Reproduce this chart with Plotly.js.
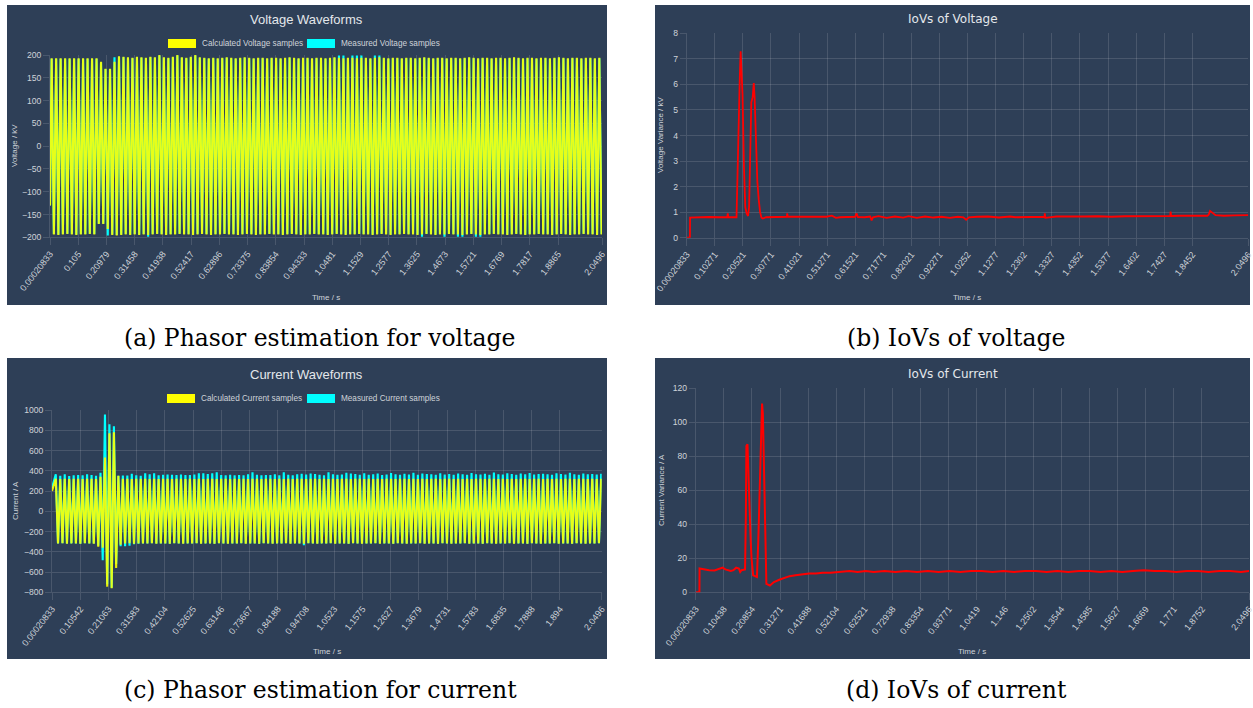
<!DOCTYPE html>
<html>
<head>
<meta charset="utf-8">
<script src="https://cdn.plot.ly/plotly-3.0.1.min.js"></script>
<style>
html,body{margin:0;padding:0;background:#ffffff;}
#chart{width:1253px;height:708px;}
</style>
</head>
<body>
<div id="chart"></div>
<script>
// ---------------- DATA ----------------
const SAMPLE_T0 = 0.00020833;
const T_END = 2.0496;
const FREQ = 60;               // waveform cycles per second
const voltPhase = 0.38;        // cycle offset of first voltage peak
const currPhase = 0.86;        // cycle offset of first current peak

// Tick labels shown under each panel
const voltTickText = ["0.00020833","0.105","0.20979","0.31458","0.41938","0.52417","0.62896","0.73375","0.83854","0.94333","1.0481","1.1529","1.2577","1.3625","1.4673","1.5721","1.6769","1.7817","1.8865","2.0496"];
const ioVoltTickText = ["0.00020833","0.10271","0.20521","0.30771","0.41021","0.51271","0.61521","0.71771","0.82021","0.92271","1.0252","1.1277","1.2302","1.3327","1.4352","1.5377","1.6402","1.7427","1.8452","2.0496"];
const currTickText = ["0.00020833","0.10542","0.21063","0.31583","0.42104","0.52625","0.63146","0.73667","0.84188","0.94708","1.0523","1.1575","1.2627","1.3679","1.4731","1.5783","1.6835","1.7888","1.894","2.0496"];
const ioCurrTickText = ["0.00020833","0.10438","0.20854","0.31271","0.41688","0.52104","0.62521","0.72938","0.83354","0.93771","1.0419","1.146","1.2502","1.3544","1.4585","1.5627","1.6669","1.771","1.8752","2.0496"];

// Voltage waveform: value at the first sample, then peak / trough of every cycle (kV)
const voltStart = [-130, -130];   // [calculated, measured]
const voltCalcPeaks = [
 193,193,193,193,193,193,193,193,193,193,
 193,185,170,170,185,197,196,195,194,196,
 195,194,196,195,200,195,194,196,200,195,
 194,196,200,195,194,193,194,193,194,195,
 194,193,194,195,194,193,194,194,193,194,
 194,193,194,195,194,193,194,194,193,194,
 194,193,194,195,194,193,194,194,193,194,
 194,193,194,195,194,193,194,194,193,194,
 194,193,194,195,194,193,194,194,193,194,
 194,193,194,195,194,193,194,194,193,194,
 194,193,194,195,194,193,194,194,193,194,
 194,193,194,195,194,193,194,194,193,194,
 194,193,194];
const voltCalcTroughs = [
 -194,-195,-194,-193,-194,-195,-194,-194,-193,-194,
 -171,-171,-182,-195,-196,-195,-194,-195,-194,-195,
 -194,-195,-194,-193,-194,-195,-194,-194,-193,-194,
 -194,-195,-194,-193,-194,-195,-194,-194,-193,-194,
 -194,-195,-194,-193,-194,-195,-194,-194,-193,-194,
 -194,-195,-194,-193,-194,-195,-194,-194,-193,-194,
 -194,-195,-194,-193,-194,-195,-194,-194,-193,-194,
 -194,-195,-194,-193,-194,-195,-194,-194,-193,-194,
 -194,-195,-194,-193,-194,-195,-194,-194,-193,-194,
 -194,-195,-194,-193,-194,-195,-194,-194,-193,-194,
 -194,-195,-194,-193,-194,-195,-194,-194,-193,-194,
 -194,-195,-194,-193,-194,-195,-194,-194,-193,-194,
 -194,-195,-194];
const voltMeasPeaks = [
 192,192,192,192,192,192,192,192,192,192,
 192,184,169,169,195,196,195,194,193,195,
 194,193,195,194,199,194,193,195,199,194,
 193,195,199,194,193,192,193,192,193,194,
 193,192,193,194,193,192,193,193,192,193,
 193,192,193,194,193,192,193,193,192,193,
 193,192,193,194,199,199,193,199,199,199,
 193,192,199,199,193,192,193,193,192,193,
 193,192,193,194,193,192,193,193,192,193,
 193,192,193,194,193,192,193,193,192,193,
 193,192,193,194,193,192,193,193,192,193,
 193,192,193,194,193,192,193,193,192,193,
 193,192,193];
const voltMeasTroughs = [
 -193,-194,-193,-192,-193,-194,-193,-193,-192,-193,
 -170,-170,-196,-194,-195,-194,-193,-194,-193,-194,
 -193,-199,-193,-192,-193,-194,-193,-193,-192,-193,
 -193,-194,-193,-192,-193,-194,-193,-193,-192,-193,
 -193,-194,-193,-192,-193,-194,-193,-193,-192,-193,
 -193,-194,-193,-192,-193,-194,-193,-193,-192,-193,
 -193,-194,-193,-192,-193,-194,-193,-193,-192,-193,
 -193,-194,-193,-192,-193,-194,-193,-193,-192,-193,
 -193,-194,-199,-192,-193,-194,-193,-199,-192,-193,
 -199,-199,-193,-192,-199,-199,-193,-193,-192,-193,
 -193,-194,-193,-192,-193,-194,-193,-193,-192,-193,
 -193,-194,-193,-192,-193,-194,-193,-193,-192,-193,
 -193,-194,-193];

// Current waveform (A)
const currStart = [200, 230];   // [calculated, measured]
const currCalcPeaks = [
 320,318,321,319,320,322,318,320,321,319,
 340,530,770,780,350,322,320,318,321,320,
 320,318,321,319,320,322,318,320,321,319,
 320,318,321,319,320,322,318,320,321,319,
 320,318,321,319,320,322,318,320,321,319,
 320,318,321,319,320,322,318,320,321,319,
 320,318,321,319,320,322,318,320,321,319,
 320,318,321,319,320,322,318,320,321,319,
 320,318,321,319,320,322,318,320,321,319,
 320,318,321,319,320,322,318,320,321,319,
 320,318,321,319,320,322,318,320,321,319,
 320,318,321,319,320,322,318,320,321,319,
 320,318,321];
const currCalcTroughs = [
 -318,-316,-319,-317,-318,-320,-316,-318,-319,-350,
 -360,-744,-760,-560,-330,-318,-316,-319,-317,-318,
 -318,-316,-319,-317,-318,-320,-316,-318,-319,-317,
 -318,-316,-319,-317,-318,-320,-316,-318,-319,-317,
 -318,-316,-319,-317,-318,-320,-316,-318,-319,-317,
 -318,-316,-319,-317,-318,-320,-316,-318,-319,-317,
 -318,-316,-319,-317,-318,-320,-316,-318,-319,-317,
 -318,-316,-319,-317,-318,-320,-316,-318,-319,-317,
 -318,-316,-319,-317,-318,-320,-316,-318,-319,-317,
 -318,-316,-319,-317,-318,-320,-316,-318,-319,-317,
 -318,-316,-319,-317,-318,-320,-316,-318,-319,-317,
 -318,-316,-319,-317,-318,-320,-316,-318,-319,-317,
 -318,-316];
const currMeasPeaks = [
 365,351,365,349,355,358,355,365,358,351,
 380,955,858,840,350,352,352,370,355,351,
 375,365,375,355,360,362,360,358,362,359,
 358,362,375,375,368,375,385,358,355,360,
 355,358,355,365,385,360,355,358,358,365,
 355,385,360,355,365,370,362,372,368,360,
 355,385,365,360,362,380,372,368,360,375,
 360,365,372,358,362,378,365,360,370,362,
 380,360,372,368,365,360,375,362,368,360,
 372,365,360,378,365,362,370,360,382,365,
 362,375,368,360,372,365,378,362,368,370,
 365,360,375,368,362,380,365,360,372,365,
 368,362,370];
const currMeasTroughs = [
 -318,-316,-319,-317,-318,-320,-316,-318,-319,-340,
 -484,-720,-755,-520,-345,-345,-340,-325,-320,-318,
 -318,-316,-319,-317,-318,-320,-316,-318,-319,-317,
 -318,-316,-319,-317,-318,-320,-316,-318,-319,-317,
 -318,-316,-319,-317,-318,-320,-316,-318,-319,-317,
 -318,-316,-319,-317,-318,-335,-316,-318,-319,-317,
 -318,-316,-319,-317,-318,-320,-316,-318,-319,-317,
 -318,-316,-319,-317,-318,-320,-316,-318,-319,-317,
 -318,-316,-319,-317,-318,-320,-316,-318,-319,-317,
 -318,-316,-319,-317,-318,-320,-316,-318,-319,-317,
 -318,-316,-319,-317,-318,-320,-316,-318,-319,-317,
 -318,-316,-319,-317,-318,-320,-316,-318,-319,-317,
 -318,-316];

// IoVs of voltage (kV)
const ioVoltTime = [
 0.00020833,0.012,0.0125,0.04,0.08,0.12,0.148,0.15,
 0.152,0.182,0.185,0.188,0.191,0.194,0.197,0.2,
 0.204,0.209,0.214,0.219,0.224,0.228,0.232,0.236,
 0.241,0.245,0.248,0.251,0.254,0.258,0.263,0.268,
 0.273,0.278,0.29,0.33,0.366,0.367,0.369,0.42,
 0.47,0.51,0.53,0.545,0.56,0.6,0.615,0.62,
 0.625,0.65,0.67,0.675,0.68,0.7,0.73,0.76,
 0.79,0.81,0.84,0.87,0.9,0.93,0.96,0.99,
 1.01,1.02,1.03,1.06,1.1,1.14,1.18,1.2,
 1.25,1.306,1.307,1.309,1.35,1.4,1.45,1.5,
 1.55,1.6,1.65,1.7,1.765,1.766,1.768,1.8,
 1.85,1.9,1.905,1.91,1.93,1.96,2.0,2.0496];
const ioVoltValue = [
 0,0,0.79,0.8,0.81,0.8,0.8,0.95,
 0.8,0.8,2.3,4.5,5.5,6.3,7.3,6.4,
 5.6,2.8,1.2,0.95,0.85,1.2,3.8,5.3,
 5.5,6.05,5.5,4.5,4.0,2.2,1.5,1.0,
 0.78,0.75,0.8,0.82,0.82,0.95,0.82,0.82,
 0.81,0.82,0.86,0.78,0.8,0.81,0.82,0.95,
 0.81,0.8,0.83,0.68,0.8,0.84,0.78,0.83,
 0.79,0.84,0.78,0.83,0.79,0.82,0.78,0.82,
 0.8,0.7,0.8,0.82,0.83,0.79,0.83,0.8,
 0.82,0.82,0.95,0.78,0.83,0.82,0.83,0.84,
 0.82,0.84,0.84,0.85,0.85,1.02,0.85,0.86,
 0.85,0.86,0.9,1.05,0.88,0.86,0.87,0.88];

// IoVs of current (A)
const ioCurrTime = [
 0.00020833,0.014,0.0145,0.03,0.05,0.07,0.09,0.1,
 0.11,0.13,0.14,0.15,0.16,0.165,0.17,0.183,
 0.186,0.188,0.192,0.195,0.198,0.2,0.204,0.207,
 0.213,0.22,0.227,0.232,0.237,0.24,0.243,0.246,
 0.249,0.252,0.256,0.259,0.262,0.275,0.29,0.312,
 0.33,0.348,0.37,0.397,0.42,0.446,0.47,0.5,
 0.54,0.57,0.6,0.63,0.66,0.7,0.74,0.78,
 0.82,0.86,0.9,0.94,0.98,1.02,1.06,1.1,
 1.14,1.18,1.22,1.26,1.3,1.34,1.38,1.42,
 1.46,1.5,1.54,1.58,1.62,1.66,1.7,1.74,
 1.78,1.82,1.86,1.9,1.94,1.98,2.02,2.0496];
const ioCurrValue = [
 0,0,14,13.5,13,12.8,14,14.5,
 13.5,12.5,13,14.5,14,12,13,13.5,
 45,86,87,70,65,55,30,20,
 10,9.5,9,30,62,75,100,111,
 105,80,40,15,5,4,6,7.5,
 8.5,9.5,10,10.5,11,11,11.5,11.5,
 12,12.5,12,12.5,12,12.5,12,12.5,
 12,12.5,12,12.5,12,12.5,12.5,12,
 12.5,12,12.5,12.5,12,12.5,12,12.5,
 12.5,12,12.5,12,12.5,13,12.5,12.5,
 12,12.5,12.5,12,12.5,12.5,12,12.5];

// ---------------- BUILD ----------------
const W = 1253, H = 708;
const fx = p => p / W;
const fy = p => 1 - p / H;
const BG = '#2e3f57';
const GRID = 'rgba(255,255,255,0.13)';
const TICKC = '#cfd3d9';
const TITLEC = '#e4e7eb';
const SANS = '"Liberation Sans", Arial, sans-serif';

function zigzag(startVal, peaks, troughs, phase) {
  const x = [SAMPLE_T0], y = [startVal];
  for (let i = 0; i < peaks.length; i++) {
    x.push((i + phase) / FREQ); y.push(peaks[i]);
    if (i < troughs.length) { x.push((i + phase + 0.5) / FREQ); y.push(troughs[i]); }
  }
  return {x, y};
}

const vMeas = zigzag(voltStart[1], voltMeasPeaks, voltMeasTroughs, voltPhase);
const vCalc = zigzag(voltStart[0], voltCalcPeaks, voltCalcTroughs, voltPhase);
const cMeas = zigzag(currStart[1], currMeasPeaks, currMeasTroughs, currPhase);
const cCalc = zigzag(currStart[0], currCalcPeaks, currCalcTroughs, currPhase);

const WAVE_W = 2.1;
const traces = [
  {x: vMeas.x, y: vMeas.y, xaxis: 'x', yaxis: 'y', type: 'scatter', mode: 'lines',
   name: 'Measured Voltage samples', line: {color: '#00ffff', width: WAVE_W}, hoverinfo: 'skip'},
  {x: vCalc.x, y: vCalc.y, xaxis: 'x', yaxis: 'y', type: 'scatter', mode: 'lines', opacity: 0.9,
   name: 'Calculated Voltage samples', line: {color: '#ffff00', width: WAVE_W}, hoverinfo: 'skip'},
  {x: ioVoltTime, y: ioVoltValue, xaxis: 'x2', yaxis: 'y2', type: 'scatter', mode: 'lines',
   name: 'IoVs of Voltage', line: {color: '#ff0000', width: 1.8}, hoverinfo: 'skip'},
  {x: cMeas.x, y: cMeas.y, xaxis: 'x3', yaxis: 'y3', type: 'scatter', mode: 'lines',
   name: 'Measured Current samples', line: {color: '#00ffff', width: WAVE_W}, hoverinfo: 'skip'},
  {x: cCalc.x, y: cCalc.y, xaxis: 'x3', yaxis: 'y3', type: 'scatter', mode: 'lines', opacity: 0.9,
   name: 'Calculated Current samples', line: {color: '#ffff00', width: WAVE_W}, hoverinfo: 'skip'},
  {x: ioCurrTime, y: ioCurrValue, xaxis: 'x4', yaxis: 'y4', type: 'scatter', mode: 'lines',
   name: 'IoVs of Current', line: {color: '#ff0000', width: 2}, hoverinfo: 'skip'}
];

function xAxis(l, r, anchor, labels) {
  return {
    domain: [fx(l), fx(r)], anchor: anchor, type: 'linear',
    range: [SAMPLE_T0, T_END], tickmode: 'array',
    tickvals: labels.map(Number), ticktext: labels,
    tickangle: -52, ticks: 'outside', ticklen: 7, tickcolor: GRID,
    ticklabeloverflow: 'allow',
    showgrid: true, gridcolor: GRID, gridwidth: 1, zeroline: false,
    showline: true, linecolor: GRID, linewidth: 1,
    tickfont: {family: SANS, size: 9, color: TICKC}, fixedrange: true
  };
}
function yAxis(t, b, anchor, range, dtick) {
  return {
    domain: [fy(b), fy(t)], anchor: anchor, range: range, dtick: dtick, tick0: 0,
    ticks: 'outside', ticklen: 6, tickcolor: GRID,
    showgrid: true, gridcolor: GRID, gridwidth: 1,
    zeroline: true, zerolinecolor: GRID, zerolinewidth: 1,
    showline: true, linecolor: GRID, linewidth: 1,
    tickfont: {family: SANS, size: 8.6, color: TICKC}, fixedrange: true
  };
}

function ann(text, x, y, size, opt) {
  return Object.assign({
    text: text, xref: 'paper', yref: 'paper', x: fx(x), y: fy(y),
    xanchor: 'center', yanchor: 'middle', showarrow: false,
    font: {family: SANS, size: size, color: TICKC}
  }, opt || {});
}
function rect(x0, y0, x1, y1, color, layer) {
  return {type: 'rect', xref: 'paper', yref: 'paper', x0: fx(x0), x1: fx(x1), y0: fy(y1), y1: fy(y0),
          fillcolor: color, line: {width: 0}, layer: layer};
}

const shapes = [
  rect(7, 5, 607, 305, BG, 'below'),
  rect(655, 5, 1250, 305, BG, 'below'),
  rect(7, 358, 607, 659, BG, 'below'),
  rect(655, 358, 1250, 659, BG, 'below'),
  rect(168, 39, 196, 48, '#ffff00', 'above'),
  rect(307, 39, 335, 48, '#00ffff', 'above'),
  rect(167, 394, 195, 403, '#ffff00', 'above'),
  rect(307, 394, 335, 403, '#00ffff', 'above')
];

const CAP = {family: '"DejaVu Serif", "Liberation Serif", serif', size: 23.5, color: '#000000'};
const annotations = [
  ann('Voltage Waveforms', 306.5, 19, 13, {font: {family: SANS, size: 13, color: TITLEC}}),
  ann('IoVs of Voltage', 952.5, 19, 12, {font: {family: '"DejaVu Sans", sans-serif', size: 12, color: TITLEC}}),
  ann('Current Waveforms', 306.5, 374, 13, {font: {family: SANS, size: 13, color: TITLEC}}),
  ann('IoVs of Current', 952.5, 374, 12, {font: {family: '"DejaVu Sans", sans-serif', size: 12, color: TITLEC}}),
  ann('Calculated Voltage samples', 200, 43.5, 8.2, {xanchor: 'left'}),
  ann('Measured Voltage samples', 339, 43.5, 8.2, {xanchor: 'left'}),
  ann('Calculated Current samples', 199, 398.5, 8.2, {xanchor: 'left'}),
  ann('Measured Current samples', 339, 398.5, 8.2, {xanchor: 'left'}),
  ann('Voltage / kV', 14, 146, 8, {textangle: -90}),
  ann('Time / s', 326, 297, 8),
  ann('Voltage Variance / kV', 661, 135, 8, {textangle: -90}),
  ann('Time / s', 967, 297, 8),
  ann('Current / A', 15, 501, 8, {textangle: -90}),
  ann('Time / s', 327, 651, 8),
  ann('Current Variance / A', 661, 490, 8, {textangle: -90}),
  ann('Time / s', 972, 651, 8),
  ann('(a) Phasor estimation for voltage', 320, 338, 23.5, {font: CAP}),
  ann('(b) IoVs of voltage', 956, 338, 23.5, {font: CAP}),
  ann('(c) Phasor estimation for current', 320, 690, 23.5, {font: CAP}),
  ann('(d) IoVs of current', 956, 690, 23.5, {font: CAP})
];

const layout = {
  width: W, height: H, margin: {l: 0, r: 0, t: 0, b: 0, pad: 0},
  paper_bgcolor: '#ffffff', plot_bgcolor: 'rgba(0,0,0,0)',
  showlegend: false, hovermode: false,
  font: {family: SANS, color: TICKC},
  xaxis: xAxis(50, 602, 'y', voltTickText),
  yaxis: yAxis(55, 237.3, 'x', [-200, 200], 50),
  xaxis2: xAxis(686.7, 1248.3, 'y2', ioVoltTickText),
  yaxis2: yAxis(33.3, 237.7, 'x2', [0, 8], 1),
  xaxis3: xAxis(52, 601.7, 'y3', currTickText),
  yaxis3: yAxis(410, 592.3, 'x3', [-800, 1000], 200),
  xaxis4: xAxis(695.7, 1249, 'y4', ioCurrTickText),
  yaxis4: yAxis(388.3, 592.3, 'x4', [0, 120], 20),
  shapes: shapes,
  annotations: annotations
};

Plotly.newPlot('chart', traces, layout, {staticPlot: true, displayModeBar: false});
</script>
</body>
</html>
